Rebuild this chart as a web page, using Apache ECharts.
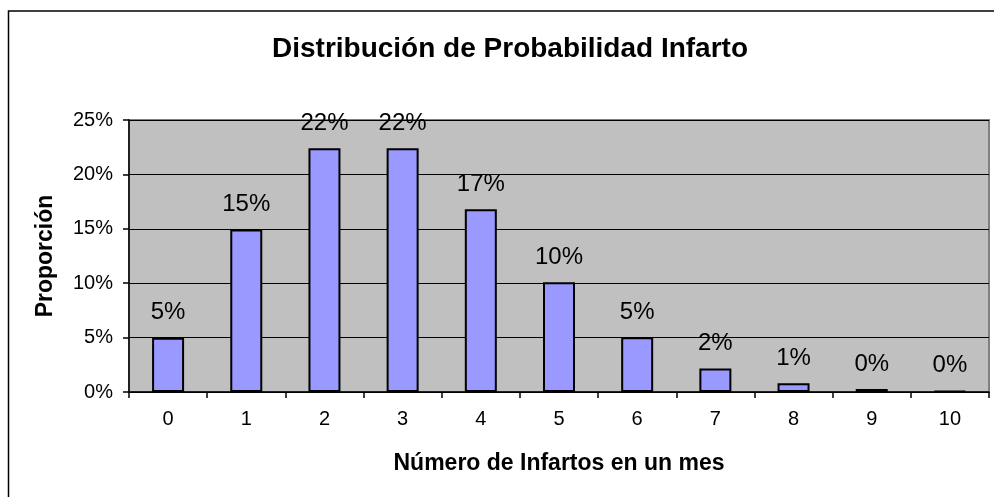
<!DOCTYPE html>
<html>
<head>
<meta charset="utf-8">
<script src="https://cdn.jsdelivr.net/npm/echarts@6/dist/echarts.min.js"></script>
<style>html,body{margin:0;padding:0;background:#fff}#c{width:994px;height:497px}</style>
</head>
<body>
<div id="c"></div>
<script>
var categories = ['0','1','2','3','4','5','6','7','8','9','10'];
var proportions = [0.0498, 0.1494, 0.2240, 0.2240, 0.1680, 0.1008, 0.0504, 0.0216, 0.0081, 0.0027, 0.0008];
var yTicks = [0, 0.05, 0.10, 0.15, 0.20, 0.25];

var FONT = '"Liberation Sans", Arial, sans-serif';
var chart = echarts.init(document.getElementById('c'), null, {renderer: 'canvas'});
chart.setOption({
  animation: false,
  backgroundColor: '#ffffff',
  title: {
    text: 'Distribución de Probabilidad Infarto',
    left: 505, top: 30, textAlign: 'center',
    textStyle: {fontFamily: FONT, fontSize: 28, fontWeight: 'bold', color: '#000'}
  },
  graphic: [{
    type: 'rect', silent: true, z: 100,
    shape: {x: 8.5, y: 11, width: 1000, height: 500},
    style: {fill: 'none', stroke: '#000', lineWidth: 1.5}
  }],
  grid: {
    left: 129, right: 5, top: 120, bottom: 105,
    show: true, backgroundColor: '#C0C0C0', borderColor: '#808080', borderWidth: 2
  },
  xAxis: {
    type: 'category',
    data: categories,
    name: 'Número de Infartos en un mes',
    nameLocation: 'middle',
    nameGap: 60,
    nameTextStyle: {fontFamily: FONT, fontSize: 23, fontWeight: 'bold', color: '#000'},
    axisLine: {lineStyle: {color: '#000', width: 1.5}},
    axisTick: {show: true, length: 6, lineStyle: {color: '#000', width: 1.5}},
    axisLabel: {fontFamily: FONT, fontSize: 20, color: '#000', margin: 17}
  },
  yAxis: {
    type: 'value',
    min: yTicks[0], max: yTicks[yTicks.length - 1], interval: 0.05,
    name: 'Proporción',
    nameLocation: 'middle',
    nameGap: 72,
    nameTextStyle: {fontFamily: FONT, fontSize: 23, fontWeight: 'bold', color: '#000'},
    axisLine: {show: true, lineStyle: {color: '#000', width: 1.5}},
    axisTick: {show: true, length: 6, lineStyle: {color: '#000', width: 1.5}},
    axisLabel: {
      fontFamily: FONT, fontSize: 20, color: '#000', margin: 16,
      formatter: function (v) { return Math.round(v * 100) + '%'; }
    },
    splitLine: {show: true, lineStyle: {color: '#000', width: 1}}
  },
  series: [{
    type: 'bar',
    data: proportions,
    barWidth: 32,
    itemStyle: {color: '#9999FF', borderColor: '#000', borderWidth: 2},
    label: {
      show: true, position: 'top', distance: 13,
      fontFamily: FONT, fontSize: 24, color: '#000',
      formatter: function (p) { return Math.round(p.value * 100) + '%'; }
    }
  }]
});
</script>
</body>
</html>
